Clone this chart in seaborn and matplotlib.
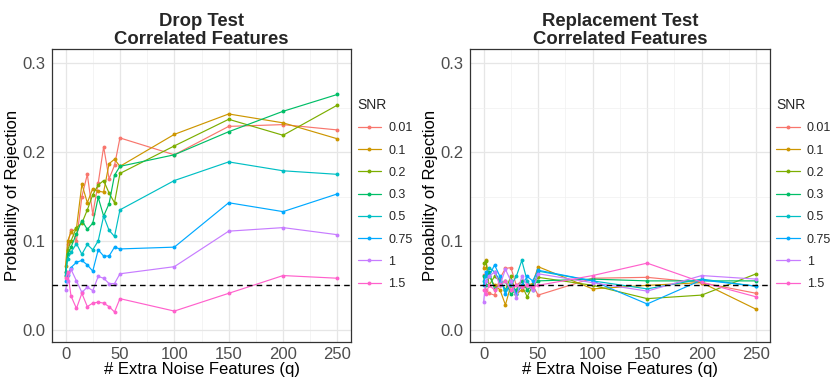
import numpy as np
import pandas as pd
import matplotlib
matplotlib.use("Agg")
import matplotlib.pyplot as plt
import seaborn as sns
from matplotlib.lines import Line2D
from matplotlib.ticker import MultipleLocator

# Number of extra noise features
q_values = [0, 2, 5, 10, 15, 20, 25, 30, 35, 40, 45, 50, 100, 150, 200, 250]
snr_levels = ["0.01", "0.1", "0.2", "0.3", "0.5", "0.75", "1", "1.5"]
snr_colors = ["#F8766D", "#CD9600", "#7CAE00", "#00BE67",
              "#00BFC4", "#00A9FF", "#C77CFF", "#FF61CC"]

# Drop test: rejection probability per SNR
drop_001 = [0.065, 0.097, 0.112, 0.100, 0.150, 0.175, 0.130, 0.165, 0.206, 0.170, 0.185, 0.216, 0.197, 0.229, 0.231, 0.225]
drop_01 = [0.072, 0.100, 0.110, 0.114, 0.164, 0.143, 0.159, 0.156, 0.155, 0.187, 0.192, 0.184, 0.220, 0.243, 0.233, 0.215]
drop_02 = [0.060, 0.090, 0.100, 0.115, 0.120, 0.135, 0.152, 0.163, 0.168, 0.154, 0.143, 0.176, 0.207, 0.237, 0.219, 0.253]
drop_03 = [0.065, 0.085, 0.093, 0.108, 0.123, 0.113, 0.120, 0.149, 0.128, 0.142, 0.174, 0.184, 0.197, 0.223, 0.246, 0.265]
drop_05 = [0.062, 0.080, 0.087, 0.097, 0.085, 0.096, 0.090, 0.100, 0.128, 0.112, 0.105, 0.135, 0.168, 0.189, 0.179, 0.175]
drop_075 = [0.055, 0.062, 0.070, 0.076, 0.078, 0.073, 0.066, 0.090, 0.083, 0.083, 0.093, 0.091, 0.093, 0.143, 0.133, 0.153]
drop_1 = [0.045, 0.055, 0.068, 0.055, 0.042, 0.048, 0.044, 0.060, 0.058, 0.052, 0.052, 0.063, 0.071, 0.111, 0.115, 0.107]
drop_15 = [0.058, 0.065, 0.038, 0.024, 0.041, 0.026, 0.030, 0.031, 0.030, 0.026, 0.020, 0.035, 0.021, 0.041, 0.061, 0.058]

# Replacement test: rejection probability per SNR
repl_001 = [0.062, 0.045, 0.041, 0.039, 0.058, 0.069, 0.070, 0.050, 0.055, 0.045, 0.050, 0.039, 0.058, 0.059, 0.053, 0.041]
repl_01 = [0.070, 0.078, 0.060, 0.050, 0.045, 0.028, 0.050, 0.040, 0.045, 0.050, 0.052, 0.071, 0.046, 0.050, 0.053, 0.023]
repl_02 = [0.075, 0.077, 0.050, 0.060, 0.055, 0.045, 0.060, 0.040, 0.050, 0.037, 0.050, 0.059, 0.050, 0.035, 0.039, 0.063]
repl_03 = [0.060, 0.050, 0.065, 0.046, 0.050, 0.055, 0.040, 0.045, 0.055, 0.045, 0.050, 0.055, 0.057, 0.055, 0.055, 0.055]
repl_05 = [0.055, 0.060, 0.070, 0.065, 0.055, 0.045, 0.050, 0.060, 0.078, 0.055, 0.045, 0.066, 0.055, 0.046, 0.057, 0.049]
repl_075 = [0.050, 0.065, 0.060, 0.073, 0.060, 0.040, 0.055, 0.040, 0.050, 0.060, 0.055, 0.067, 0.055, 0.029, 0.056, 0.049]
repl_1 = [0.031, 0.055, 0.060, 0.065, 0.050, 0.068, 0.055, 0.036, 0.060, 0.050, 0.045, 0.063, 0.053, 0.0435, 0.061, 0.057]
repl_15 = [0.045, 0.040, 0.050, 0.045, 0.050, 0.055, 0.045, 0.050, 0.048, 0.050, 0.048, 0.050, 0.061, 0.075, 0.0535, 0.037]

nominal_level = 0.05

drop_series = [drop_001, drop_01, drop_02, drop_03, drop_05, drop_075, drop_1, drop_15]
repl_series = [repl_001, repl_01, repl_02, repl_03, repl_05, repl_075, repl_1, repl_15]


def to_long(series_list):
    rows = []
    for snr, vals in zip(snr_levels, series_list):
        for q, p in zip(q_values, vals):
            rows.append({"q": q, "p": p, "SNR": snr})
    return pd.DataFrame(rows)


sns.set_theme(style="white")
plt.rcParams["font.family"] = ["Liberation Sans", "DejaVu Sans"]

fig = plt.figure(figsize=(8.33, 3.78), dpi=100)
axes = [fig.add_axes([0.0624, 0.0960, 0.359, 0.774]),
        fig.add_axes([0.5642, 0.0960, 0.360, 0.774])]
titles = ["Drop Test\nCorrelated Features", "Replacement Test\nCorrelated Features"]
palette = dict(zip(snr_levels, snr_colors))

for ax, series, title in zip(axes, [drop_series, repl_series], titles):
    df = to_long(series)
    ax.set_axisbelow(True)
    ax.xaxis.set_major_locator(MultipleLocator(50))
    ax.xaxis.set_minor_locator(MultipleLocator(25))
    ax.yaxis.set_major_locator(MultipleLocator(0.1))
    ax.yaxis.set_minor_locator(MultipleLocator(0.05))
    ax.grid(which="major", color="#E6E6E6", linewidth=0.9)
    ax.grid(which="minor", color="#F0F0F0", linewidth=0.5)
    sns.lineplot(data=df, x="q", y="p", hue="SNR", hue_order=snr_levels,
                 palette=palette, marker="o", markersize=2.8,
                 markeredgewidth=0, linewidth=0.85, legend=False, ax=ax,
                 zorder=3)
    ax.axhline(nominal_level, color="black", linestyle=(0, (4, 3)),
               linewidth=1.0, zorder=4)
    ax.set_xlim(-12.5, 262.5)
    ax.set_ylim(-0.0135, 0.316)
    ax.set_yticks([0.0, 0.1, 0.2, 0.3])
    ax.set_yticklabels(["0.0", "0.1", "0.2", "0.3"])
    ax.set_xticks([0, 50, 100, 150, 200, 250])
    ax.tick_params(axis="both", which="major", length=3, width=0.8,
                   color="#333333", labelsize=12, labelcolor="#4D4D4D", pad=1.5)
    ax.tick_params(axis="x", which="major", pad=0.5)
    ax.tick_params(axis="both", which="minor", length=0)
    for sp in ax.spines.values():
        sp.set_color("#333333")
        sp.set_linewidth(0.9)
    ax.set_xlabel("# Extra Noise Features (q)", fontsize=12, color="black", labelpad=0)
    ax.set_ylabel("Probability of Rejection", fontsize=12, color="black", labelpad=2)
    ax.set_title(title, fontsize=13.3, fontweight="bold", linespacing=1.05, pad=4)

    handles = [Line2D([0], [0], color=c, linewidth=0.9, marker="o",
                      markersize=2.8, markeredgewidth=0) for c in snr_colors]
    leg = ax.legend(handles, snr_levels, title="SNR", loc="upper left",
                    bbox_to_anchor=(1.005, 0.85), frameon=False, fontsize=9,
                    title_fontsize=10, handlelength=1.9, handletextpad=0.55,
                    labelspacing=0.82, borderaxespad=0.0)
    leg._legend_box.align = "left"

fig.savefig("out.png", dpi=100, facecolor="white")
